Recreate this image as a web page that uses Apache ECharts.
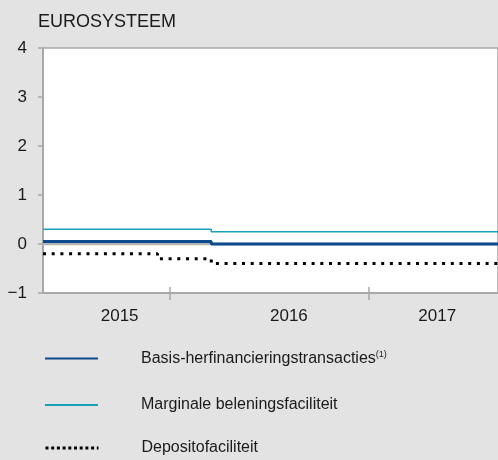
<!DOCTYPE html>
<html>
<head>
<meta charset="utf-8">
<script src="https://cdn.jsdelivr.net/npm/echarts@6/dist/echarts.min.js"></script>
<style>
html, body { margin: 0; padding: 0; background: #e3e3e3; }
#chart { width: 498px; height: 460px; }
</style>
</head>
<body>
<div id="chart"></div>
<script>
// x values are decimal years
var xMin = 2015.365, xMax = 2017.65;
var yearTicks = [2016, 2017];
var yearLabelPos = [2015.75, 2016.6, 2017.345];

var nulLijn = [[2015.365, 0], [2017.65, 0]];
var basis = [[2015.365, 0.05], [2016.21, 0.00], [2017.65, 0.00]];
var marginaal = [[2015.365, 0.30], [2016.21, 0.25], [2017.65, 0.25]];
var deposito = [[2015.365, -0.20], [2015.94, -0.30], [2016.21, -0.40], [2017.65, -0.40]];

var names = ['Basis-herfinancieringstransacties', 'Marginale beleningsfaciliteit', 'Depositofaciliteit'];

var myChart = echarts.init(document.getElementById('chart'));
var grey = '#a8a8a8';
var txt = '#1a1a1a';
var font = '"Liberation Sans", Arial, sans-serif';
var clear = 'rgba(0,0,0,0)';

function legendAt(name, top, extra) {
    var l = {
        data: [name],
        left: 44,
        top: top,
        padding: 0,
        itemWidth: 53,
        itemHeight: 14,
        selectedMode: false,
        itemStyle: { color: clear, borderColor: clear, borderWidth: 0 },
        textStyle: {
            color: txt,
            fontFamily: font,
            fontSize: 16,
            padding: [0, 0, 0, 38],
            rich: {
                sup: { fontSize: 9, verticalAlign: 'top', padding: [0, 0, 8, 0], color: txt, fontFamily: font }
            }
        }
    };
    for (var k in extra) l[k] = extra[k];
    return l;
}

option = {
    backgroundColor: '#e3e3e3',
    animation: false,
    title: {
        text: 'EUROSYSTEEM',
        left: 33,
        top: 8,
        textStyle: { color: txt, fontFamily: font, fontSize: 18, fontWeight: 'normal' }
    },
    legend: [
        legendAt(names[0], 350, {
            formatter: function (n) { return n + '{sup|(1)}'; }
        }),
        legendAt(names[1], 397, {}),
        legendAt(names[2], 440, { lineStyle: { type: [3, 2.7], width: 3 } })
    ],
    grid: {
        left: 43,
        right: -2,
        top: 48,
        bottom: 167,
        show: true,
        backgroundColor: '#fff',
        borderColor: grey,
        borderWidth: 1.5
    },
    xAxis: [{
        type: 'value',
        min: xMin,
        max: xMax,
        position: 'bottom',
        axisLine: { onZero: false, lineStyle: { color: grey, width: 2 } },
        axisTick: { customValues: yearTicks, length: 7, lineStyle: { color: grey, width: 1.5 } },
        axisLabel: {
            customValues: yearLabelPos,
            margin: 15,
            color: txt,
            fontFamily: font,
            fontSize: 17,
            formatter: function (v) { return String(Math.floor(v)); }
        },
        splitLine: { show: false }
    }, {
        type: 'value',
        min: xMin,
        max: xMax,
        position: 'bottom',
        axisLine: { show: false, onZero: false },
        axisTick: { inside: true, customValues: yearTicks, length: 6, lineStyle: { color: grey, width: 1.5 } },
        axisLabel: { show: false },
        splitLine: { show: false }
    }],
    yAxis: {
        type: 'value',
        min: -1,
        max: 4,
        interval: 1,
        axisLine: { show: true, lineStyle: { color: grey, width: 2 } },
        axisTick: { show: true, length: 5, lineStyle: { color: grey, width: 1.5 } },
        axisLabel: {
            margin: 16,
            color: txt,
            fontFamily: font,
            fontSize: 17,
            formatter: function (v) { return v < 0 ? '\u2212' + Math.abs(v) : String(v); }
        },
        splitLine: { show: false }
    },
    series: [{
        name: 'nul',
        type: 'line',
        data: nulLijn,
        symbol: 'none',
        silent: true,
        z: 1,
        lineStyle: { color: '#b4b4b4', width: 2.5 }
    }, {
        name: names[0],
        type: 'line',
        step: 'end',
        data: basis,
        symbol: 'none',
        z: 3,
        color: '#0c4a8e',
        lineStyle: { color: '#0c4a8e', width: 3 }
    }, {
        name: names[1],
        type: 'line',
        step: 'end',
        data: marginaal,
        symbol: 'none',
        z: 3,
        color: '#17a2b8',
        lineStyle: { color: '#17a2b8', width: 1.5 }
    }, {
        name: names[2],
        type: 'line',
        step: 'end',
        data: deposito,
        symbol: 'none',
        z: 3,
        color: '#000',
        lineStyle: { color: '#000', width: 3, type: [3, 5.7], cap: 'butt' }
    }]
};
myChart.setOption(option);
</script>
</body>
</html>
